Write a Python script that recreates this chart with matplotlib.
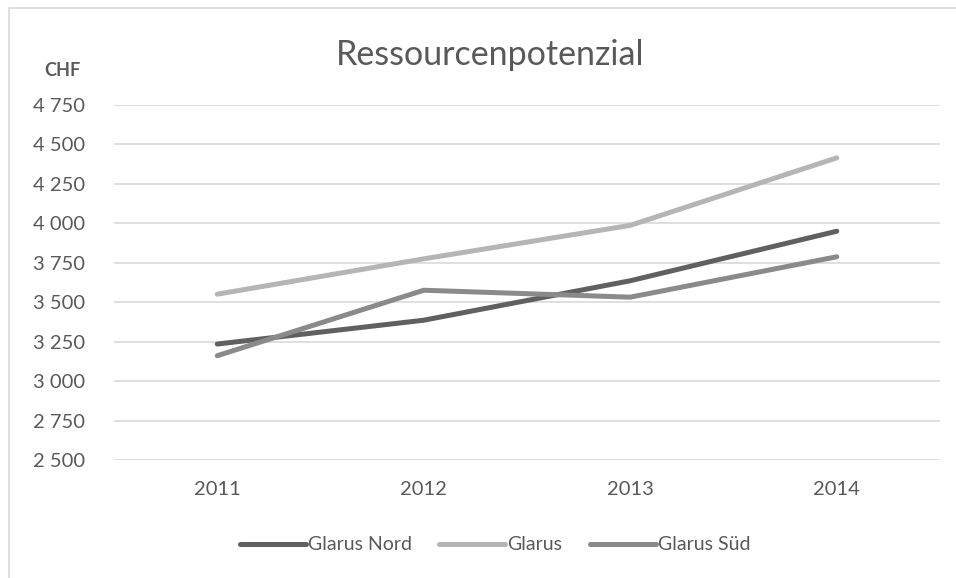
import matplotlib.pyplot as plt
from matplotlib.patches import Rectangle
from matplotlib.ticker import FuncFormatter

plt.rcParams['font.family'] = ['Lato', 'DejaVu Sans']

years = ['2011', '2012', '2013', '2014']
glarus_nord = [3235, 3386, 3636, 3950]
glarus = [3551, 3775, 3987, 4415]
glarus_sued = [3161, 3576, 3532, 3788]

series = [
    ('Glarus Nord', glarus_nord, '#606060'),
    ('Glarus', glarus, '#b5b5b5'),
    ('Glarus Süd', glarus_sued, '#8a8a8a'),
]

fig = plt.figure(figsize=(9.56, 5.78), dpi=100)
fig.patches.append(Rectangle((9 / 956, -0.01), 1.0, 1 - 8 / 578 + 0.01,
                             transform=fig.transFigure, fill=False,
                             edgecolor='#d9d9d9', linewidth=1.2))
ax = fig.add_axes([114 / 956, 1 - 460 / 578, 826 / 956, 355 / 578])

x = range(len(years))
for name, vals, col in series:
    ax.plot(x, vals, color=col, lw=3.6, solid_capstyle='round', label=name, zorder=3)

ax.set_xlim(-0.5, len(years) - 0.5)
ax.set_ylim(2500, 4750)
ax.set_yticks(range(2500, 4751, 250))
ax.yaxis.set_major_formatter(FuncFormatter(lambda v, p: f'{int(v):,}'.replace(',', ' ')))
ax.set_xticks(list(x))
ax.set_xticklabels(years)
ax.grid(axis='y', color='#d9d9d9', lw=1.2, zorder=0)
for s in ax.spines.values():
    s.set_visible(False)
ax.tick_params(length=0, labelsize=14.5, colors='#595959')
ax.tick_params(axis='y', pad=21)
ax.tick_params(axis='x', pad=15)

fig.text(490 / 956, 1 - 55 / 578, 'Ressourcenpotenzial', ha='center', va='center',
         fontsize=24.5, color='#595959')
fig.text(62 / 956, 1 - 70 / 578, 'CHF', ha='center', va='center',
         fontsize=13, fontweight='bold', color='#595959')

leg = fig.legend(loc='center', bbox_to_anchor=(495 / 956, 1 - 545 / 578), ncol=3,
                 frameon=False, fontsize=14, handlelength=3.4, handletextpad=0.1,
                 columnspacing=1.4)
for t in leg.get_texts():
    t.set_color('#595959')

fig.savefig('out.png', dpi=100)
